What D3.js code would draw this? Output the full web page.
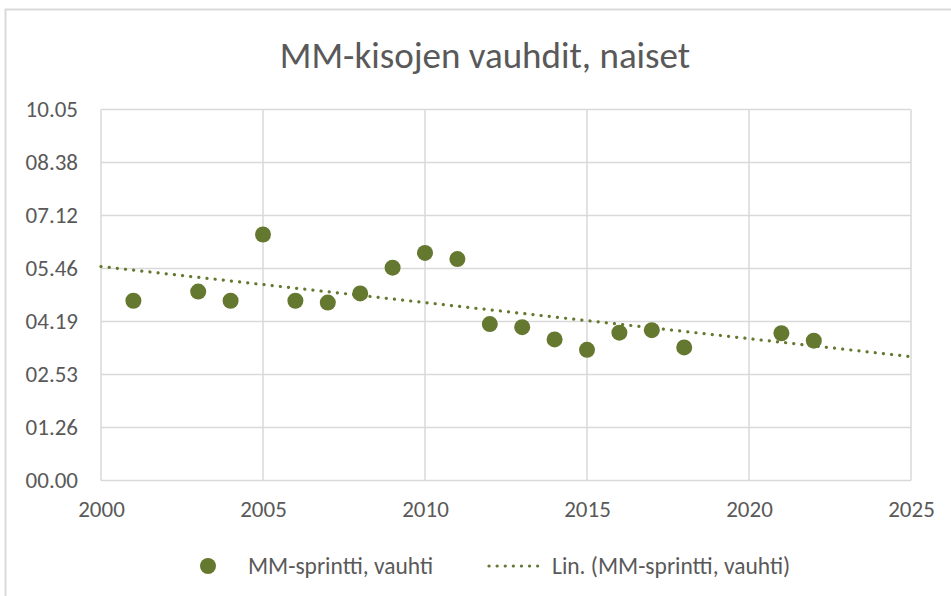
<!DOCTYPE html>
<html>
<head>
<meta charset="utf-8">
<script src="https://cdn.jsdelivr.net/npm/d3@7"></script>
<style>
  body { margin: 0; background: #fff; }
  text { font-family: Carlito, Calibri, Lato, sans-serif; fill: #595959; }
</style>
</head>
<body>
<div id="chart"></div>
<script>
// data (pace in seconds)
var years = [2001, 2003, 2004, 2005, 2006, 2007, 2008, 2009, 2010, 2011,
             2012, 2013, 2014, 2015, 2016, 2017, 2018, 2021, 2022];
var paceSec = [293, 308, 293, 401, 293, 290, 305, 347, 371, 361,
               255, 250, 230, 213, 241, 245, 217, 240, 228];

// y ticks every 0.001 day (86.4 s), labels as Excel shows them
var yTicks = [0, 86.4, 172.8, 259.2, 345.6, 432, 518.4, 604.8];
var yTickLabels = ["00.00", "01.26", "02.53", "04.19", "05.46", "07.12", "08.38", "10.05"];
var xTicks = [2000, 2005, 2010, 2015, 2020, 2025];

var title = "MM-kisojen vauhdit, naiset";
var seriesName = "MM-sprintti, vauhti";
var trendName = "Lin. (MM-sprintti, vauhti)";

var green = "#64782f";
var grid = "#d9d9d9";

function buildChart() {
    var W = 951, H = 596;
    var margin = { top: 109.5, right: 40, bottom: 115.5, left: 101 },
        width = W - margin.left - margin.right,
        height = H - margin.top - margin.bottom;

    var svg = d3.select("#chart")
        .append("svg")
        .attr("width", W)
        .attr("height", H);

    // chart area border (runs off the right and bottom edges)
    svg.append("rect")
        .attr("x", 5.5)
        .attr("y", 9.5)
        .attr("width", 980)
        .attr("height", 620)
        .attr("fill", "#fff")
        .attr("stroke", grid)
        .attr("stroke-width", 2);

    svg.append("text")
        .attr("x", 485)
        .attr("y", 68)
        .attr("text-anchor", "middle")
        .attr("font-size", 37)
        .text(title);

    var g = svg.append("g")
        .attr("transform", "translate(" + margin.left + "," + margin.top + ")");

    var x = d3.scaleLinear()
        .domain([2000, 2025])
        .range([0, width]);

    var y = d3.scaleLinear()
        .domain([0, 604.8])
        .range([height, 0]);

    // gridlines
    g.append("g")
        .selectAll("line")
        .data(yTicks)
        .enter()
        .append("line")
        .attr("x1", 0)
        .attr("x2", width)
        .attr("y1", d => y(d))
        .attr("y2", d => y(d))
        .attr("stroke", grid)
        .attr("stroke-width", 1.5);

    g.append("g")
        .selectAll("line")
        .data(xTicks)
        .enter()
        .append("line")
        .attr("x1", d => x(d))
        .attr("x2", d => x(d))
        .attr("y1", 0)
        .attr("y2", height)
        .attr("stroke", grid)
        .attr("stroke-width", 1.5);

    // axes, labels only
    var yAxis = g.append("g")
        .call(d3.axisLeft(y)
            .tickValues(yTicks)
            .tickFormat((d, i) => yTickLabels[i])
            .tickSize(0)
            .tickPadding(23));
    yAxis.select(".domain").remove();
    yAxis.selectAll("text")
        .attr("font-size", 23)
        .attr("fill", "#595959");

    var xAxis = g.append("g")
        .attr("transform", "translate(0," + height + ")")
        .call(d3.axisBottom(x)
            .tickValues(xTicks)
            .tickFormat(d3.format("d"))
            .tickSize(0)
            .tickPadding(20));
    xAxis.select(".domain").remove();
    xAxis.selectAll("text")
        .attr("font-size", 23)
        .attr("fill", "#595959");

    // linear trend (least squares), Excel "Lin." trendline
    var mx = d3.mean(years), my = d3.mean(paceSec);
    var sxy = d3.sum(years, (d, i) => (d - mx) * (paceSec[i] - my));
    var sxx = d3.sum(years, d => (d - mx) * (d - mx));
    var slope = sxy / sxx;
    var icpt = my - slope * mx;

    g.append("line")
        .attr("x1", x(2000))
        .attr("y1", y(icpt + slope * 2000))
        .attr("x2", x(2025))
        .attr("y2", y(icpt + slope * 2025))
        .attr("stroke", green)
        .attr("stroke-width", 3.2)
        .attr("stroke-linecap", "round")
        .attr("stroke-dasharray", "0.1 8.1");

    // dots
    g.append("g")
        .selectAll("circle")
        .data(years)
        .enter()
        .append("circle")
        .attr("cx", d => x(d))
        .attr("cy", (d, i) => y(paceSec[i]))
        .attr("r", 8)
        .style("fill", green);

    // legend
    var leg = svg.append("g");
    leg.append("circle")
        .attr("cx", 208)
        .attr("cy", 566)
        .attr("r", 8)
        .style("fill", green);
    leg.append("text")
        .attr("x", 248)
        .attr("y", 574)
        .attr("font-size", 23.5)
        .text(seriesName);
    leg.append("line")
        .attr("x1", 489)
        .attr("x2", 545)
        .attr("y1", 566)
        .attr("y2", 566)
        .attr("stroke", green)
        .attr("stroke-width", 3.2)
        .attr("stroke-linecap", "round")
        .attr("stroke-dasharray", "0.1 8");
    leg.append("text")
        .attr("x", 552)
        .attr("y", 574)
        .attr("font-size", 23.5)
        .text(trendName);
}

buildChart();
</script>
</body>
</html>
